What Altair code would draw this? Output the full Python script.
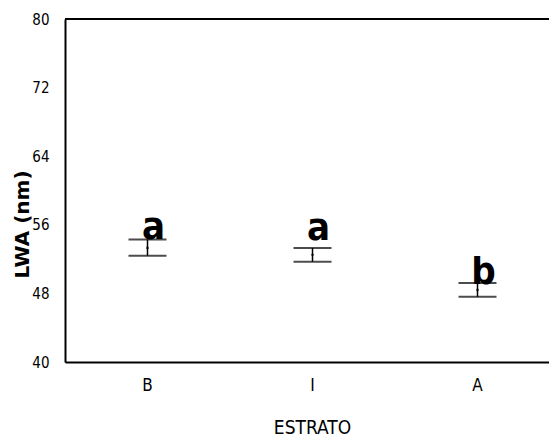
import altair as alt
import pandas as pd

estrato = ["B", "I", "A"]
media = [53.3, 52.5, 48.4]
superior = [54.3, 53.3, 49.2]
inferior = [52.4, 51.7, 47.6]
letras = ["a", "a", "b"]
letra_y = [54.35, 54.25, 49.1]

df = pd.DataFrame({"estrato": estrato, "media": media, "sup": superior,
                   "inf": inferior, "letra": letras, "letra_y": letra_y})

FONT = "DejaVu Sans Condensed, DejaVu Sans"
W = 484

x = alt.X("estrato:N", sort=estrato, title="ESTRATO",
          scale=alt.Scale(paddingInner=0, paddingOuter=0, range=[0, 495]),
          axis=alt.Axis(labelAngle=0, ticks=False, domain=True, domainColor="black",
                        domainWidth=2, labelPadding=15,
                        labelFontSize=17, labelFont=FONT, titleFont=FONT,
                        titleFontSize=19, titleFontWeight="normal", titlePadding=25,
                        titleX=247, labelColor="black", titleColor="black"))
yscale = alt.Scale(domain=[40, 80], nice=False, zero=False)
y = alt.Y("media:Q", scale=yscale, title="LWA (nm)",
          axis=alt.Axis(values=[40, 48, 56, 64, 72, 80], ticks=False, domain=True,
                        domainColor="black", domainWidth=2,
                        grid=False, labelPadding=16, labelFontSize=15, labelFont=FONT,
                        titleFontSize=20, titleFontWeight="bold", titleFont="DejaVu Sans",
                        titleY=205, titleX=-43, titleBaseline="middle",
                        labelColor="black", titleColor="black"))

base = alt.Chart(df)
top = base.mark_rule(color="black", strokeWidth=2).encode(
    y=alt.value(0), x=alt.value(0), x2=alt.value(500))
rule = base.mark_rule(color="black", strokeWidth=1.5).encode(
    x=x, y=alt.Y("inf:Q", scale=yscale), y2="sup:Q")
cap_hi = base.mark_tick(color="black", size=38, thickness=2, orient="horizontal").encode(
    x=x, y=alt.Y("sup:Q", scale=yscale))
cap_lo = base.mark_tick(color="black", size=38, thickness=2, orient="horizontal").encode(
    x=x, y=alt.Y("inf:Q", scale=yscale))
pt = base.mark_point(color="black", filled=True, size=8).encode(x=x, y=y)
txt = base.mark_text(baseline="alphabetic", align="center", dx=6, fontSize=38,
                     fontWeight="bold", font="DejaVu Sans Condensed", color="black").encode(
    x=x, y=alt.Y("letra_y:Q", scale=yscale), text="letra:N")

chart = alt.layer(top, rule, cap_hi, cap_lo, pt, txt).properties(
    width=W, height=343,
    autosize=alt.AutoSizeParams(type="none"),
    padding={"left": 57, "top": 11, "right": 0, "bottom": 77},
).configure(background="white").configure_view(stroke=None)

chart.save("out.html", embed_options={"renderer": "svg", "actions": False})
